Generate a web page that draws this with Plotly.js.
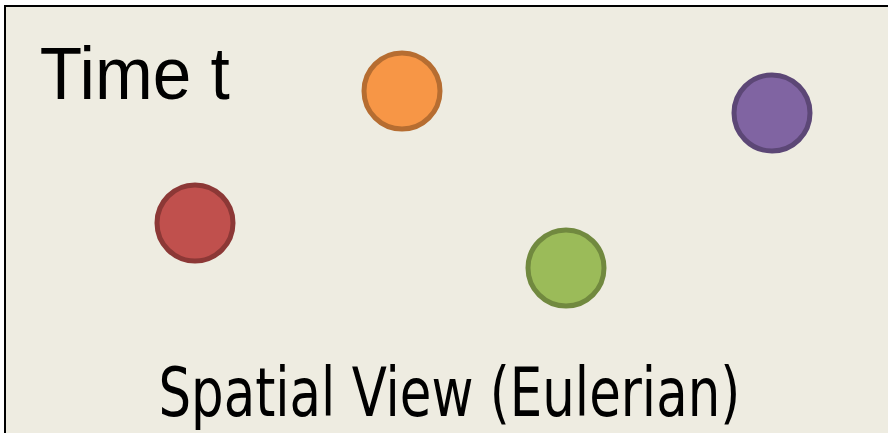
<!DOCTYPE html>
<html>
<head>
<meta charset="utf-8">
<script src="https://cdn.plot.ly/plotly-3.0.1.min.js"></script>
<style>html,body{margin:0;padding:0;background:#fff;}#chart{width:888px;height:433px;}</style>
</head>
<body>
<div id="chart"></div>
<script>
// Particle positions (pixel-like coordinates of the scene)
const particleNames = ["red", "orange", "green", "purple"];
const particleX = [195, 402, 566, 772];
const particleY = [223, 91, 268, 113];
const fillColors = ["#C0504D", "#F79646", "#9BBB59", "#8064A2"];
const edgeColors = ["#8C3836", "#B66D31", "#71893F", "#5C4776"];
const timeLabel = "Time t";
const viewLabel = "Spatial View (Eulerian)";

const trace = {
  type: "scatter",
  mode: "markers",
  x: particleX,
  y: particleY,
  text: particleNames,
  hoverinfo: "text",
  marker: {
    size: 76,
    color: fillColors,
    line: {color: edgeColors, width: 5}
  },
  showlegend: false
};

const layout = {
  width: 888,
  height: 433,
  margin: {l: 0, r: 0, t: 0, b: 0, pad: 0},
  paper_bgcolor: "#ffffff",
  plot_bgcolor: "#ffffff",
  xaxis: {range: [0, 888], visible: false, fixedrange: true},
  yaxis: {range: [433, 0], visible: false, fixedrange: true},
  shapes: [{
    type: "rect", xref: "x", yref: "y", layer: "below",
    x0: 5, x1: 900, y0: 6, y1: 450,
    fillcolor: "#EEECE1",
    line: {color: "#000000", width: 2}
  }],
  annotations: [
    {
      x: 135, y: 73, xref: "x", yref: "y", xanchor: "center", yanchor: "middle",
      text: timeLabel, showarrow: false,
      font: {family: "Liberation Sans, Arial, sans-serif", size: 75, color: "#000"}
    },
    {
      x: 449, y: 392, xref: "x", yref: "y", xanchor: "center", yanchor: "middle",
      text: viewLabel, showarrow: false,
      font: {family: "DejaVu Sans Condensed, sans-serif", size: 68, color: "#000"}
    }
  ]
};

const squeeze = [0.925, 0.84];
Plotly.newPlot("chart", [trace], layout, {displayModeBar: false, staticPlot: true}).then(function (gd) {
  gd.querySelectorAll(".annotation-text").forEach(function (t, i) {
    t.style.transformBox = "fill-box";
    t.style.transformOrigin = "center";
    t.style.transform = "scaleX(" + squeeze[i] + ")";
  });
});
</script>
</body>
</html>
